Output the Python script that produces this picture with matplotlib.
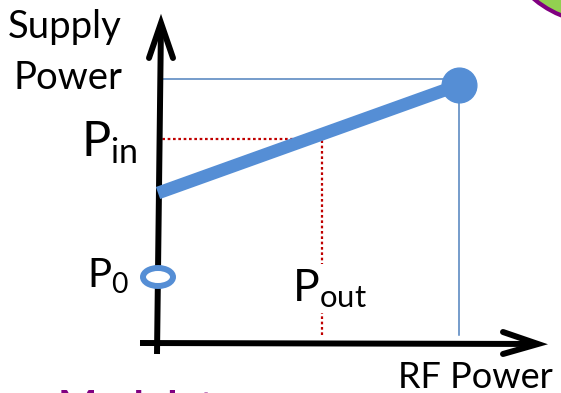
import matplotlib
matplotlib.use("Agg")
import matplotlib.pyplot as plt
from matplotlib.patches import Ellipse, Circle

plt.rcParams['font.family'] = ['Lato', 'DejaVu Sans']
plt.rcParams['mathtext.default'] = 'regular'

# chart values (units: origin at the axis corner)
line_x = [1, 302]          # supply power vs RF power
line_y = [150, 258]
rf_max = 302
supply_max = 264
p0_level = 66
pin_level = 204
pout_level = 165
axis_x_end = 381
axis_y_end = 320

blue = '#558ED5'
thin_blue = '#4F81BD'
red = '#C00000'
purple = '#800080'

fig = plt.figure(figsize=(5.61, 3.93), dpi=100)
ax = fig.add_axes([0, 0, 1, 1])
ax.set_xlim(-157, 404)
ax.set_ylim(-50, 343)
ax.axis('off')

# axes with open arrow heads
ax.plot([-17, axis_x_end], [0, -1], color='black', lw=4.3, solid_capstyle='butt', zorder=3)
ax.plot([0, 4], [-11, axis_y_end], color='black', lw=4.3, solid_capstyle='butt', zorder=3)
ax.plot([axis_x_end - 35, axis_x_end, axis_x_end - 35], [11, -1, -11],
        color='black', lw=4.3, solid_capstyle='round', solid_joinstyle='miter', zorder=3)
ax.plot([4 - 12, 4, 4 + 12], [axis_y_end - 35, axis_y_end, axis_y_end - 35],
        color='black', lw=4.3, solid_capstyle='round', solid_joinstyle='miter', zorder=3)

# thin guide lines
ax.plot([3, rf_max], [supply_max, supply_max], color=thin_blue, lw=1.1, zorder=2)
ax.plot([rf_max, rf_max], [8, line_y[1] - 10], color=thin_blue, lw=1.1, zorder=2)

# red dotted markers for Pin / Pout
ax.plot([0, pout_level], [pin_level, pin_level], color=red, lw=1.6,
        linestyle=(0, (1.2, 1.2)), zorder=2)
ax.plot([pout_level, pout_level], [8, pin_level], color=red, lw=1.6,
        linestyle=(0, (1.2, 1.2)), zorder=2)

# thick supply line and end dot
ax.plot(line_x, line_y, color=blue, lw=9.2, solid_capstyle='butt', zorder=4)
ax.plot([line_x[1]], [line_y[1]], 'o', color=blue, ms=25, zorder=4)

# P0 ring
ax.add_patch(Ellipse((1, p0_level), 30, 18, facecolor='white', edgecolor=blue, lw=4.3, zorder=5))

# labels
ax.text(-92, 305, 'Supply', fontsize=27.5, ha='center', va='baseline')
ax.text(-89, 254, 'Power', fontsize=27.5, ha='center', va='baseline')
ax.text(396, -45, 'RF Power', fontsize=26, ha='right', va='baseline')
ax.text(-76, 186, r'$P_{in}$', fontsize=35, ha='left', va='baseline')
ax.text(-70, 55, r'$P_{0}$', fontsize=29, ha='left', va='baseline')
ax.text(135, 42, r'$P_{out}$', fontsize=32, ha='left', va='baseline', zorder=6,
        bbox=dict(facecolor='white', edgecolor='none', pad=2))

# cropped purple title and decorative arc
ax.text(-99, -78, 'Modulator', fontsize=30, fontweight='bold', color=purple,
        ha='left', va='baseline')
ax.add_patch(Circle((443, 423), 103, facecolor='#92D050', edgecolor=purple, lw=3, zorder=1))

fig.savefig('out.png', dpi=100)
